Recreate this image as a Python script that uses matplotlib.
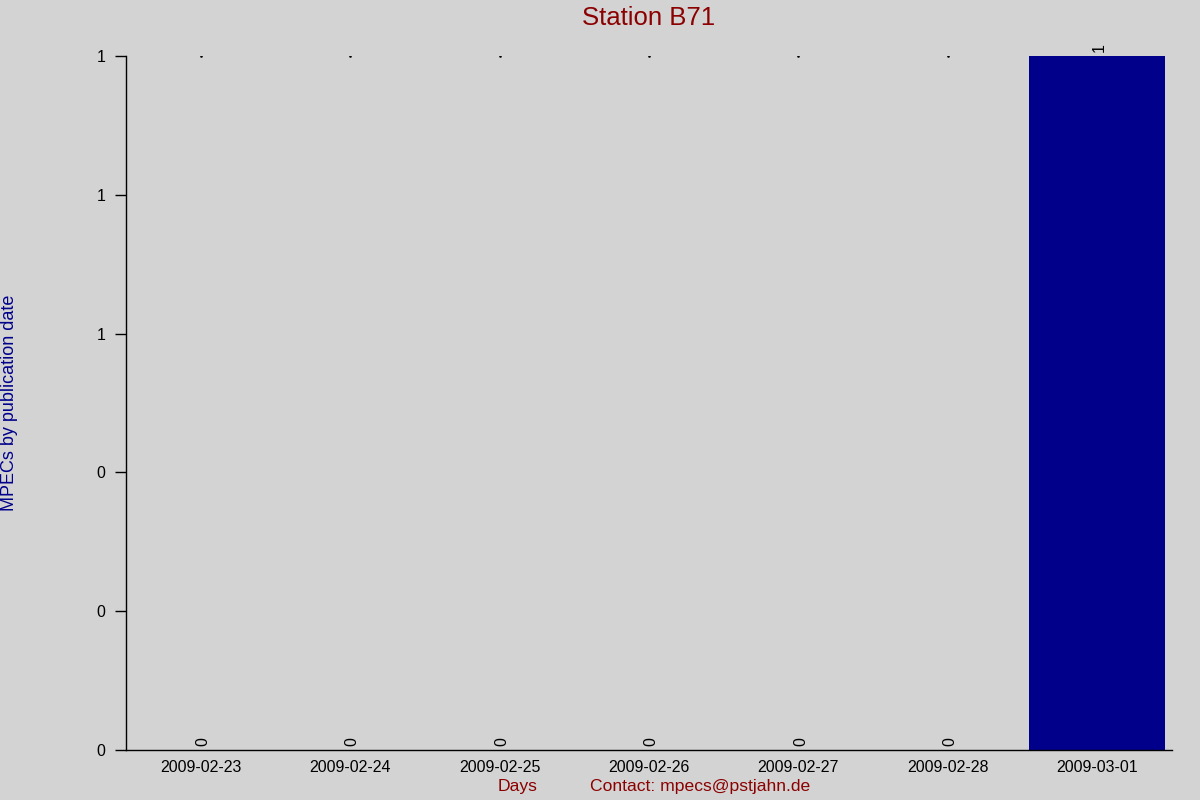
import matplotlib
matplotlib.use("Agg")
import matplotlib.pyplot as plt
import numpy as np

days = ["2009-02-23", "2009-02-24", "2009-02-25", "2009-02-26",
        "2009-02-27", "2009-02-28", "2009-03-01"]
counts = [0, 0, 0, 0, 0, 0, 1]
yticks = [0, 0.2, 0.4, 0.6, 0.8, 1.0]

plt.rcParams['font.family'] = ['Liberation Sans', 'DejaVu Sans']
bg = "#d3d3d3"
fig = plt.figure(figsize=(12, 8), dpi=100, facecolor=bg)
ax = fig.add_axes([126/1200, 1-750/800, (1172-126)/1200, (750-56)/800])
ax.set_facecolor(bg)

x = np.arange(len(days))
ax.bar(x, counts, width=0.91, color="#00008b")
ymax = max(counts)
for xi, c in zip(x, counts):
    ax.annotate(str(c), (xi, c), xytext=(1.5, 3), textcoords="offset points",
                rotation=90, ha="center", va="bottom", fontsize=11.5, color="black")
    if c == 0:
        ax.plot([xi], [ymax], marker='s', markersize=0.8, color='black', linestyle='none')

ax.set_xlim(-0.5, len(days) - 0.5)
ax.set_ylim(0, ymax)
ax.set_xticks(x)
ax.set_xticklabels(days, fontsize=11.5)
ax.tick_params(axis='x', length=0, pad=7)
ax.set_yticks(yticks)
ax.set_yticklabels([f"{v:.0f}" for v in yticks], fontsize=11.5)
ax.tick_params(axis='y', length=8, width=1, pad=7)
for s in ['top', 'right']:
    ax.spines[s].set_visible(False)
for s in ['left', 'bottom']:
    ax.spines[s].set_linewidth(1)
    ax.spines[s].set_color('black')

fig.text(649/1200, 1 - 18/800, "Station B71", ha="center", va="center",
         fontsize=18.5, color="#8b0000")
fig.text(10/1200, 1 - 403/800, "MPECs by publication date", rotation=90,
         ha="center", va="center", fontsize=13, color="#00008b")
fig.text(518/1200, 1 - 786/800, "Days", ha="center", va="center",
         fontsize=12.6, color="#8b0000")
fig.text(590/1200, 1 - 786/800, "Contact: mpecs@pstjahn.de", ha="left", va="center",
         fontsize=12.6, color="#8b0000")

fig.savefig("out.png", dpi=100, facecolor=bg)
